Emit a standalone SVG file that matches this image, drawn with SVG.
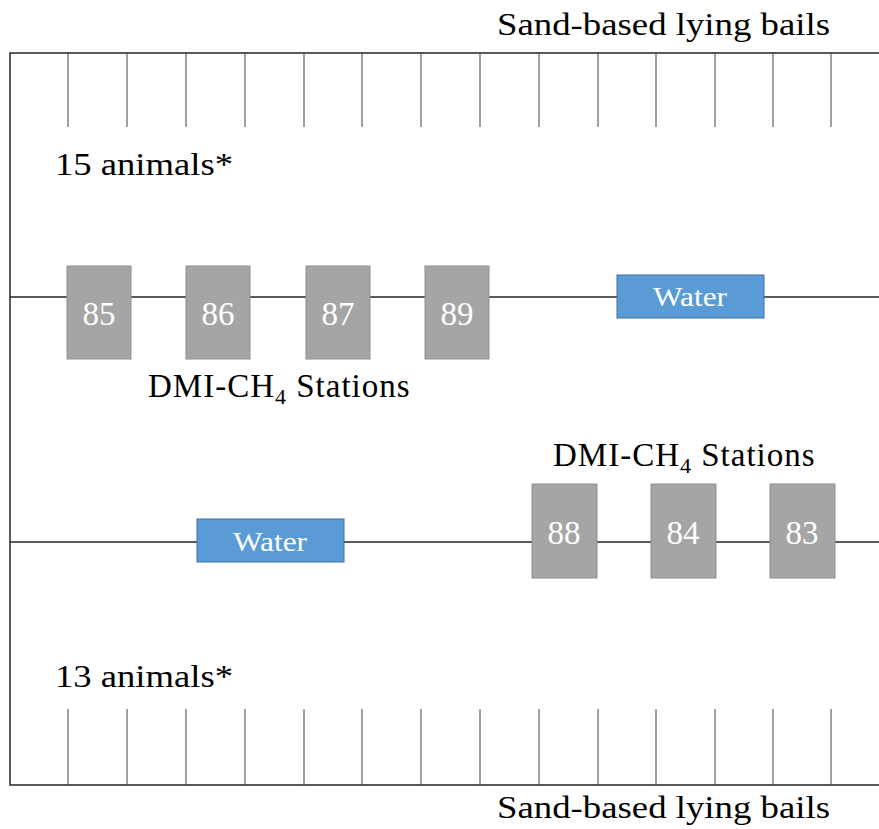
<svg xmlns="http://www.w3.org/2000/svg" width="879" height="829" viewBox="0 0 879 829">
<style>
.ln{stroke:#262626;stroke-width:1.5;fill:none}
.st{stroke:#404040;stroke-width:1;fill:none}
.lbl{font-family:"Liberation Serif","DejaVu Serif",serif;font-size:32px;fill:#000}
.dmi{font-size:33px;letter-spacing:1px}
.box{fill:#A5A5A5;stroke:#8F8F8F;stroke-width:1}
.wat{fill:#5B9BD5;stroke:#41719C;stroke-width:1}
.num{font-family:"Liberation Serif","DejaVu Serif",serif;font-size:33px;fill:#fff;text-anchor:middle}
.wtx{font-family:"Liberation Serif","DejaVu Serif",serif;font-size:27px;fill:#fff;text-anchor:middle}
</style>
<rect width="879" height="829" fill="#fff"/>
<g id="connectors">
<path class="ln" d="M879 53H10V785H879"/>
<path class="ln" d="M10 297H879M10 542H879"/>
<path class="st" d="M68 53V127M127 53V127M186 53V127M245 53V127M304 53V127M362 53V127M421 53V127M480 53V127M539 53V127M598 53V127M656 53V127M715 53V127M773 53V127M831 53V127"/>
<path class="st" d="M68 709V785M127 709V785M186 709V785M245 709V785M304 709V785M362 709V785M421 709V785M480 709V785M539 709V785M598 709V785M656 709V785M715 709V785M773 709V785M831 709V785"/>
</g>
<g id="labels">
<text class="lbl" x="497" y="35" textLength="333" lengthAdjust="spacingAndGlyphs">Sand-based lying bails</text>
<text class="lbl" x="497" y="818" textLength="333" lengthAdjust="spacingAndGlyphs">Sand-based lying bails</text>
<text class="lbl" x="55" y="175" textLength="178" lengthAdjust="spacingAndGlyphs">15 animals*</text>
<text class="lbl" x="55" y="687" textLength="178" lengthAdjust="spacingAndGlyphs">13 animals*</text>
<text class="lbl dmi" x="148" y="397">DMI-CH<tspan font-size="22" dy="7">4</tspan><tspan dy="-7"> Stations</tspan></text>
<text class="lbl dmi" x="553" y="466">DMI-CH<tspan font-size="22" dy="7">4</tspan><tspan dy="-7"> Stations</tspan></text>
</g>
<g id="s85"><rect class="box" x="67" y="266" width="64" height="93"/><text class="num" x="99" y="325">85</text></g>
<g id="s86"><rect class="box" x="186" y="266" width="64" height="93"/><text class="num" x="218" y="325">86</text></g>
<g id="s87"><rect class="box" x="306" y="266" width="64" height="93"/><text class="num" x="338" y="325">87</text></g>
<g id="s89"><rect class="box" x="425" y="266" width="64" height="93"/><text class="num" x="457" y="325">89</text></g>
<g id="water1"><rect class="wat" x="617" y="275" width="147" height="43"/><text class="wtx" x="690" y="306" textLength="74" lengthAdjust="spacingAndGlyphs">Water</text></g>
<g id="water2"><rect class="wat" x="197" y="519" width="147" height="43"/><text class="wtx" x="270" y="551" textLength="74" lengthAdjust="spacingAndGlyphs">Water</text></g>
<g id="s88"><rect class="box" x="532" y="484" width="65" height="94"/><text class="num" x="564" y="544">88</text></g>
<g id="s84"><rect class="box" x="651" y="484" width="65" height="94"/><text class="num" x="683" y="544">84</text></g>
<g id="s83"><rect class="box" x="770" y="484" width="65" height="94"/><text class="num" x="802" y="544">83</text></g>
</svg>
